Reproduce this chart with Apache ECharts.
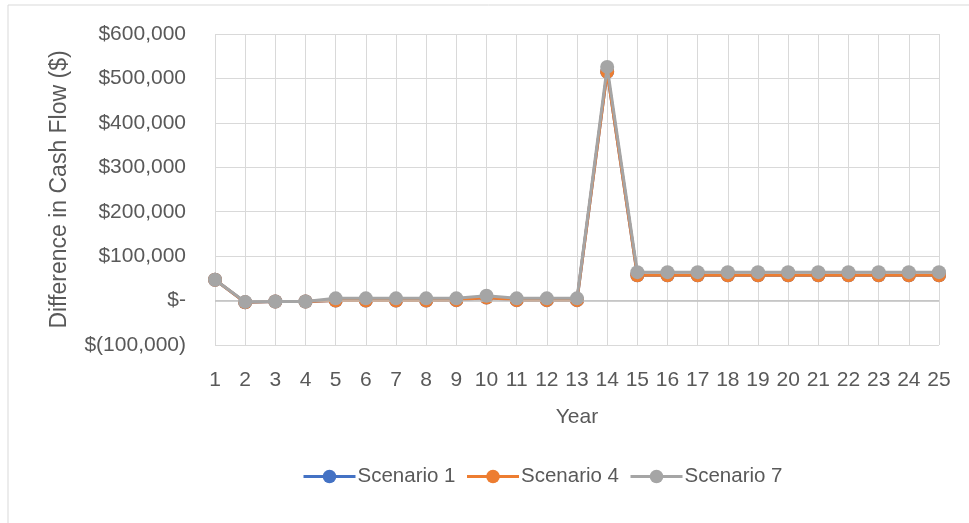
<!DOCTYPE html>
<html>
<head>
<meta charset="utf-8">
<script src="https://cdn.jsdelivr.net/npm/echarts@6/dist/echarts.min.js"></script>
<style>html,body{margin:0;padding:0;background:#fff}#c{width:969px;height:523px}</style>
</head>
<body>
<div id="c"></div>
<script>
const years = ['1','2','3','4','5','6','7','8','9','10','11','12','13','14','15','16','17','18','19','20','21','22','23','24','25'];
const scenario1 = [47000,-4000,-2000,-2000,0,0,0,0,1000,7000,1000,1000,1000,515000,57000,57000,57000,57000,57000,57000,57000,57000,57000,57000,57000];
const scenario4 = [47000,-4000,-2000,-2000,0,0,0,0,1000,7000,1000,1000,1000,515000,57000,57000,57000,57000,57000,57000,57000,57000,57000,57000,57000];
const scenario7 = [47000,-3000,-2000,-2000,5000,5000,5000,5000,5000,11000,5000,5000,5000,526000,64000,64000,64000,64000,64000,64000,64000,64000,64000,64000,64000];
const seriesNames = ['Scenario 1','Scenario 4','Scenario 7'];
const colors = ['#4472C4','#ED7D31','#A5A5A5'];

const font = 'Liberation Sans';
function fmt(v){
  if (v === 0) return '$-';
  const s = Math.abs(v).toLocaleString('en-US');
  return v < 0 ? '$(' + s + ')' : '$' + s;
}
const data = [scenario1, scenario4, scenario7];
const chart = echarts.init(document.getElementById('c'));
chart.setOption({
  animation: false,
  color: colors,
  textStyle: {fontFamily: font},
  grid: {left: 215, right: 30, top: 34, bottom: 178},
  graphic: [
    {type: 'line', shape: {x1: 8, y1: 5, x2: 969, y2: 5}, style: {stroke: '#d9d9d9', lineWidth: 1}},
    {type: 'line', shape: {x1: 8, y1: 5, x2: 8, y2: 523}, style: {stroke: '#d9d9d9', lineWidth: 1}}
  ],
  legend: {
    data: seriesNames,
    top: 461,
    left: 297,
    itemWidth: 52,
    itemHeight: 17,
    itemGap: 10,
    lineStyle: {width: 3},
    textStyle: {fontSize: 20.5, color: '#595959', fontFamily: font, padding: [0,0,0,-3]}
  },
  xAxis: {
    type: 'category',
    data: years,
    boundaryGap: false,
    name: 'Year',
    nameLocation: 'middle',
    nameGap: 62,
    nameTextStyle: {fontSize: 21, color: '#595959', fontFamily: font},
    axisLine: {show: false},
    axisTick: {show: false},
    axisLabel: {fontSize: 21, color: '#595959', margin: 25, interval: 0, fontFamily: font},
    splitLine: {show: true, lineStyle: {color: '#d9d9d9', width: 1}}
  },
  yAxis: {
    type: 'value',
    min: -100000,
    max: 600000,
    interval: 100000,
    name: 'Difference in Cash Flow ($)',
    nameLocation: 'middle',
    nameGap: 144,
    nameTextStyle: {fontSize: 23, color: '#595959', fontFamily: font},
    axisLine: {show: false},
    axisTick: {show: false},
    axisLabel: {fontSize: 21, color: '#595959', margin: 29, formatter: fmt, fontFamily: font},
    splitLine: {show: true, lineStyle: {color: '#d9d9d9', width: 1}}
  },
  series: seriesNames.map((n, i) => ({
    name: n,
    type: 'line',
    data: data[i],
    symbol: 'circle',
    symbolSize: 14,
    lineStyle: {width: 3, color: colors[i]},
    itemStyle: {color: colors[i]},
    z: 3 + i,
    markLine: i === 0 ? {
      silent: true,
      symbol: 'none',
      label: {show: false},
      lineStyle: {color: '#bfbfbf', type: 'solid', width: 1.5},
      data: [{yAxis: 0}]
    } : undefined
  }))
});
</script>
</body>
</html>
